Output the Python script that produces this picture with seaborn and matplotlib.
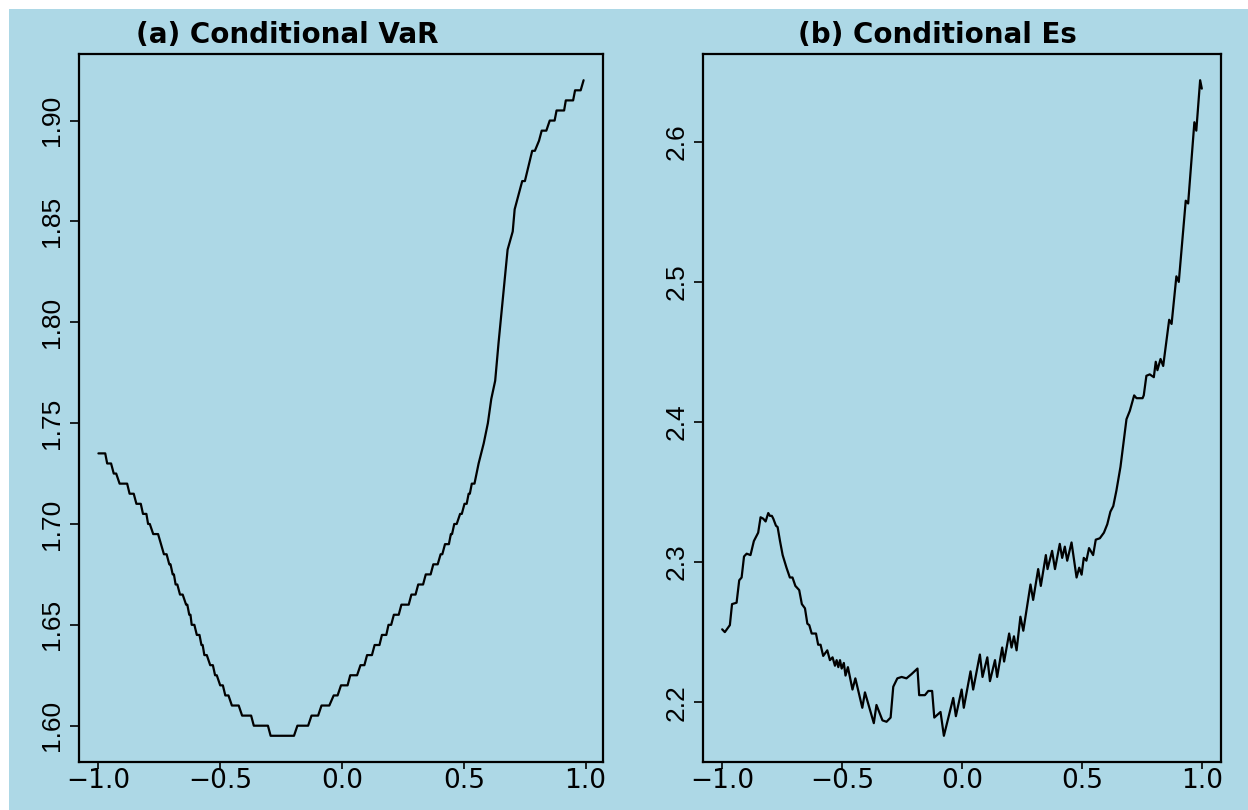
import numpy as np
import pandas as pd
import matplotlib
matplotlib.use('Agg')
import matplotlib.pyplot as plt
import matplotlib.patches as patches
import seaborn as sns

# (a) conditional VaR (corners of the steps)
var_x = [-1.000, -0.972, -0.964, -0.948, -0.937, -0.927, -0.913, -0.882, -0.872, -0.855,
         -0.844, -0.826, -0.817, -0.803, -0.796, -0.789, -0.775, -0.755, -0.731, -0.720,
         -0.709, -0.704, -0.695, -0.690, -0.683, -0.676, -0.665, -0.654, -0.640, -0.635,
         -0.627, -0.622, -0.617, -0.606, -0.596, -0.585, -0.577, -0.572, -0.565, -0.555,
         -0.541, -0.530, -0.521, -0.514, -0.500, -0.489, -0.479, -0.466, -0.452, -0.424,
         -0.410, -0.373, -0.362, -0.304, -0.293, -0.197, -0.183, -0.139, -0.125, -0.098,
         -0.084, -0.052, -0.034, -0.018, -0.004, 0.023, 0.034, 0.062, 0.076, 0.092,
         0.103, 0.123, 0.134, 0.154, 0.164, 0.182, 0.191, 0.202, 0.213, 0.233,
         0.244, 0.274, 0.285, 0.302, 0.313, 0.333, 0.344, 0.364, 0.375, 0.393,
         0.405, 0.412, 0.423, 0.439, 0.447, 0.452, 0.461, 0.471, 0.485, 0.492,
         0.503, 0.512, 0.520, 0.525, 0.533, 0.544, 0.561, 0.582, 0.599, 0.613,
         0.629, 0.643, 0.664, 0.680, 0.701, 0.709, 0.740, 0.751, 0.781, 0.792,
         0.809, 0.820, 0.839, 0.853, 0.873, 0.881, 0.912, 0.919, 0.949, 0.957,
         0.980, 0.992]
var_y = [1.735, 1.735, 1.730, 1.730, 1.725, 1.725, 1.720, 1.720, 1.715, 1.715,
         1.710, 1.710, 1.705, 1.705, 1.700, 1.700, 1.695, 1.695, 1.685, 1.685,
         1.680, 1.680, 1.675, 1.675, 1.670, 1.670, 1.665, 1.665, 1.660, 1.660,
         1.655, 1.655, 1.650, 1.650, 1.645, 1.645, 1.640, 1.640, 1.635, 1.635,
         1.630, 1.630, 1.625, 1.625, 1.620, 1.620, 1.615, 1.615, 1.610, 1.610,
         1.605, 1.605, 1.600, 1.600, 1.595, 1.595, 1.600, 1.600, 1.605, 1.605,
         1.610, 1.610, 1.615, 1.615, 1.620, 1.620, 1.625, 1.625, 1.630, 1.630,
         1.635, 1.635, 1.640, 1.640, 1.645, 1.645, 1.650, 1.650, 1.655, 1.655,
         1.660, 1.660, 1.665, 1.665, 1.670, 1.670, 1.675, 1.675, 1.680, 1.680,
         1.685, 1.685, 1.690, 1.690, 1.695, 1.695, 1.700, 1.700, 1.705, 1.705,
         1.710, 1.710, 1.715, 1.715, 1.720, 1.720, 1.730, 1.740, 1.750, 1.762,
         1.771, 1.790, 1.816, 1.836, 1.845, 1.856, 1.870, 1.870, 1.885, 1.885,
         1.890, 1.895, 1.895, 1.900, 1.900, 1.905, 1.905, 1.910, 1.910, 1.915,
         1.915, 1.920]

# (b) conditional Es
es_x = [-0.999, -0.988, -0.967, -0.958, -0.939, -0.928, -0.918, -0.908, -0.897, -0.881,
        -0.867, -0.849, -0.839, -0.828, -0.818, -0.807, -0.800, -0.792, -0.786, -0.775,
        -0.768, -0.758, -0.747, -0.731, -0.717, -0.706, -0.694, -0.678, -0.667, -0.654,
        -0.644, -0.636, -0.626, -0.608, -0.599, -0.589, -0.578, -0.561, -0.550, -0.539,
        -0.529, -0.522, -0.515, -0.508, -0.501, -0.492, -0.485, -0.475, -0.456, -0.444,
        -0.415, -0.404, -0.367, -0.356, -0.331, -0.314, -0.297, -0.286, -0.269, -0.251,
        -0.231, -0.210, -0.185, -0.178, -0.154, -0.140, -0.124, -0.115, -0.089, -0.075,
        -0.036, -0.025, -0.001, 0.008, 0.036, 0.047, 0.075, 0.086, 0.106, 0.117,
        0.138, 0.147, 0.168, 0.176, 0.197, 0.207, 0.217, 0.228, 0.244, 0.256,
        0.286, 0.297, 0.318, 0.329, 0.350, 0.357, 0.376, 0.388, 0.408, 0.418,
        0.429, 0.439, 0.457, 0.478, 0.489, 0.499, 0.508, 0.519, 0.530, 0.547,
        0.558, 0.575, 0.592, 0.606, 0.619, 0.631, 0.644, 0.661, 0.686, 0.700,
        0.718, 0.728, 0.753, 0.758, 0.769, 0.783, 0.800, 0.808, 0.815, 0.828,
        0.839, 0.864, 0.874, 0.894, 0.904, 0.933, 0.943, 0.969, 0.977, 0.993,
        1.000]
es_y = [2.252, 2.250, 2.255, 2.270, 2.271, 2.287, 2.289, 2.304, 2.306, 2.305,
        2.315, 2.321, 2.332, 2.331, 2.329, 2.335, 2.333, 2.333, 2.331, 2.326,
        2.325, 2.315, 2.305, 2.296, 2.289, 2.289, 2.283, 2.280, 2.270, 2.267,
        2.256, 2.255, 2.249, 2.249, 2.241, 2.241, 2.233, 2.237, 2.230, 2.232,
        2.226, 2.230, 2.225, 2.230, 2.224, 2.228, 2.219, 2.225, 2.209, 2.217,
        2.196, 2.207, 2.185, 2.198, 2.187, 2.186, 2.189, 2.211, 2.217, 2.218,
        2.217, 2.220, 2.224, 2.205, 2.205, 2.208, 2.208, 2.189, 2.193, 2.176,
        2.203, 2.190, 2.209, 2.196, 2.222, 2.209, 2.234, 2.218, 2.232, 2.215,
        2.230, 2.218, 2.239, 2.229, 2.249, 2.239, 2.247, 2.237, 2.261, 2.251,
        2.284, 2.273, 2.295, 2.283, 2.305, 2.295, 2.308, 2.295, 2.313, 2.303,
        2.311, 2.301, 2.314, 2.289, 2.296, 2.291, 2.303, 2.301, 2.310, 2.305,
        2.316, 2.317, 2.321, 2.327, 2.336, 2.340, 2.351, 2.368, 2.402, 2.408,
        2.419, 2.417, 2.417, 2.419, 2.433, 2.434, 2.432, 2.443, 2.437, 2.445,
        2.440, 2.473, 2.470, 2.504, 2.500, 2.558, 2.556, 2.614, 2.608, 2.644,
        2.638]

titles = ['(a) Conditional VaR', '(b) Conditional Es']
xticks = [-1.0, -0.5, 0.0, 0.5, 1.0]
xtick_labels = ['\u22121.0', '\u22120.5', '0.0', '0.5', '1.0']
var_yticks = [1.60, 1.65, 1.70, 1.75, 1.80, 1.85, 1.90]
var_ytick_labels = ['1.60', '1.65', '1.70', '1.75', '1.80', '1.85', '1.90']
es_yticks = [2.2, 2.3, 2.4, 2.5, 2.6]
es_ytick_labels = ['2.2', '2.3', '2.4', '2.5', '2.6']

bg = '#ADD8E6'
sns.set_style('ticks', rc={'axes.facecolor': bg, 'axes.edgecolor': 'black',
                           'axes.linewidth': 1.6, 'xtick.color': 'black',
                           'ytick.color': 'black', 'text.color': 'black',
                           'axes.labelcolor': 'black'})
plt.rcParams['font.family'] = ['DejaVu Sans']

fig = plt.figure(figsize=(12.48, 8.10), dpi=100)
fig.patch.set_facecolor('white')
fig.add_artist(patches.Rectangle((9 / 1248, 0), 1 - 9 / 1248, 1 - 9 / 810,
                                 transform=fig.transFigure, facecolor=bg,
                                 edgecolor='none', zorder=-5))

ax1 = fig.add_axes([79 / 1248, 48 / 810, 524 / 1248, 708 / 810])
ax2 = fig.add_axes([703 / 1248, 48 / 810, 518 / 1248, 708 / 810])

panels = [(ax1, var_x, var_y, var_yticks, var_ytick_labels),
          (ax2, es_x, es_y, es_yticks, es_ytick_labels)]

for ax, xs, ys, yt, ytl in panels:
    df = pd.DataFrame({'x': xs, 'y': ys})
    sns.lineplot(data=df, x='x', y='y', ax=ax, color='black', lw=1.6,
                 estimator=None, sort=False)
    # R style 4% range padding
    xr = max(xs) - min(xs)
    yr = max(ys) - min(ys)
    ax.set_xlim(min(xs) - 0.04 * xr, max(xs) + 0.04 * xr)
    ax.set_ylim(min(ys) - 0.04 * yr, max(ys) + 0.04 * yr)
    ax.set_xticks(xticks)
    ax.set_xticklabels(xtick_labels)
    ax.set_yticks(yt)
    ax.set_yticklabels(ytl)
    ax.set_xlabel('')
    ax.set_ylabel('')
    ax.tick_params(axis='x', length=5, width=1.2, pad=-1, labelsize=19,
                   labelcolor='black')
    ax.tick_params(axis='y', length=6.5, width=1.2, pad=4, labelsize=19,
                   labelrotation=90, labelcolor='black')
    for lab in ax.get_yticklabels():
        lab.set_verticalalignment('center')
        lab.set_family('Liberation Sans')
    for s in ax.spines.values():
        s.set_visible(True)
        s.set_linewidth(1.6)

fig.text(287 / 1248, 1 - 43 / 810, titles[0], ha='center', va='baseline',
         fontsize=20, fontweight='bold', color='black')
fig.text(937 / 1248, 1 - 43 / 810, titles[1], ha='center', va='baseline',
         fontsize=20, fontweight='bold', color='black')

fig.savefig('out.png', dpi=100, facecolor='white')
